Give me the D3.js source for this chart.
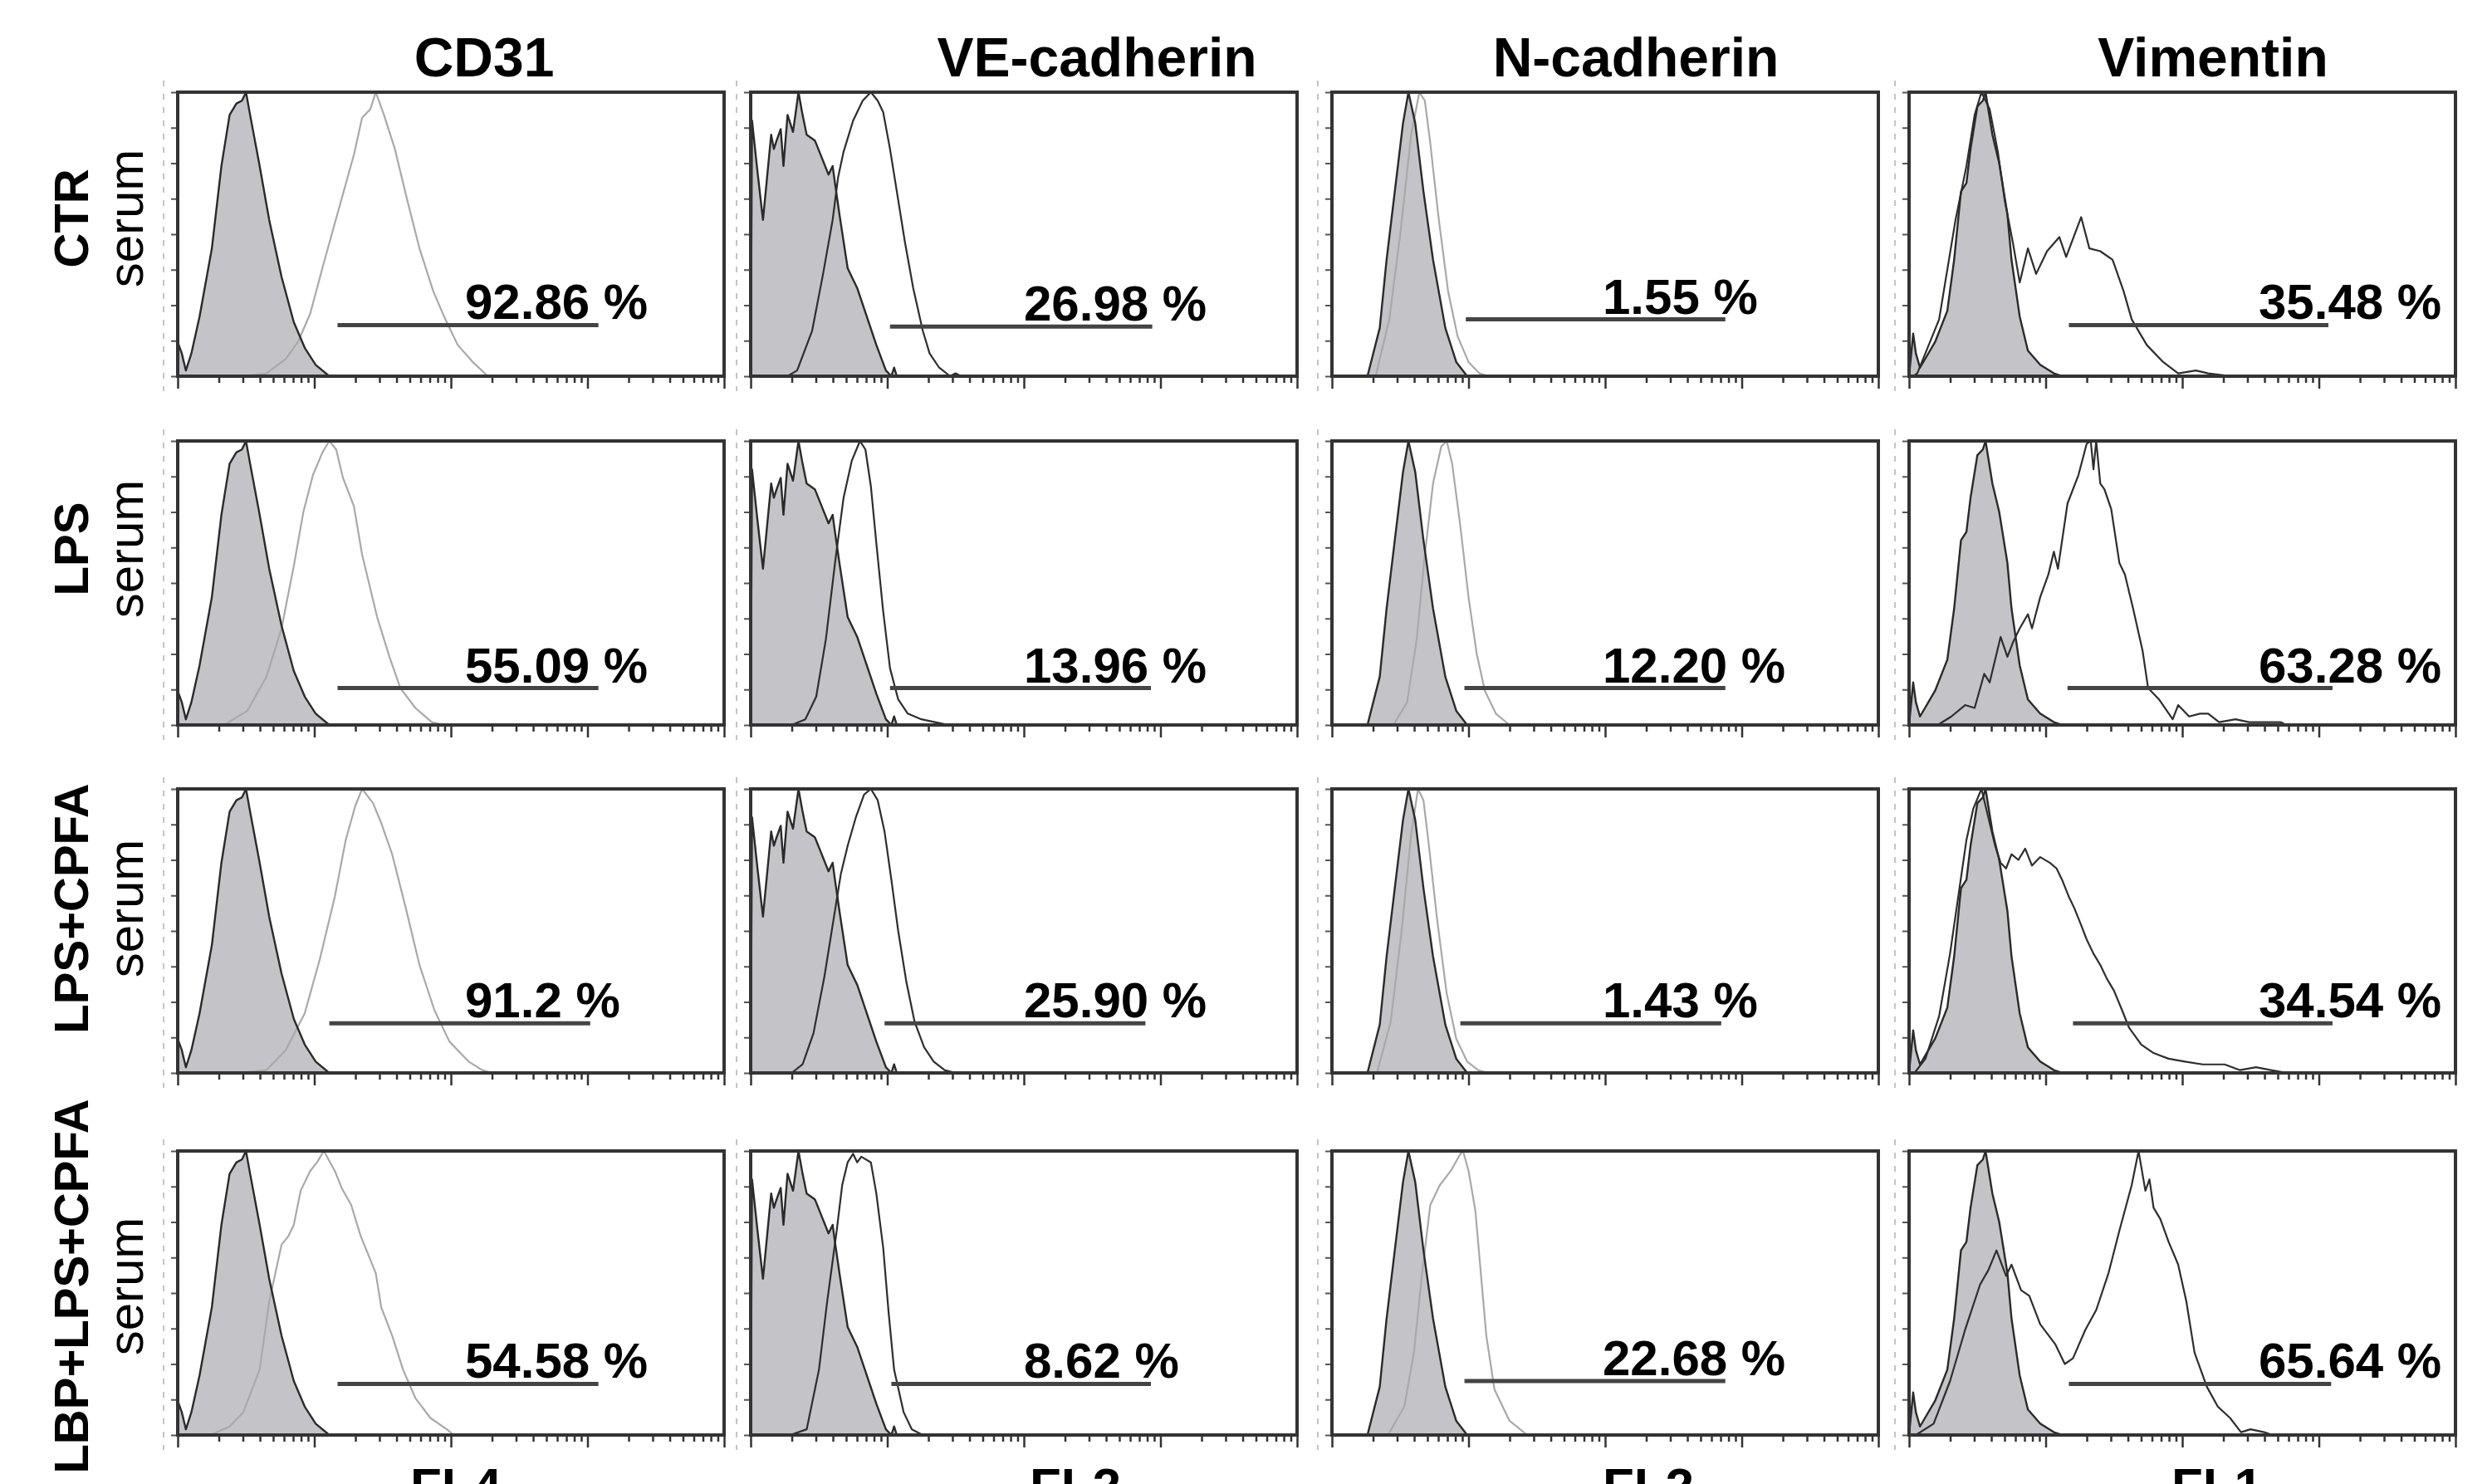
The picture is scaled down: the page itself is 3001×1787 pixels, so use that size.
<!DOCTYPE html>
<html>
<head>
<meta charset="utf-8">
<script src="https://cdn.jsdelivr.net/npm/d3@7"></script>
<style>
    body { margin: 0; background: #fff; }
    svg { display: block; font-family: "Liberation Sans", Arial, sans-serif; }
</style>
</head>
<body>
<div id="chart"></div>
<script>
// ---- data (x = log10 fluorescence, y = % of max count) ----
const markers = ["CD31", "VE-cadherin", "N-cadherin", "Vimentin"];
const channels = ["FL4", "FL2", "FL2", "FL1"];
const treatments = ["CTR", "LPS", "LPS+CPFA", "LBP+LPS+CPFA"];

const percentages = [
    ["92.86", "26.98", "1.55", "35.48"],
    ["55.09", "13.96", "12.20", "63.28"],
    ["91.2", "25.90", "1.43", "34.54"],
    ["54.58", "8.62", "22.68", "65.64"]
];

// marker gate [from, to] in log10 units
const gateRanges = [
    [[1.17, 3.08], [1.02, 2.94], [0.98, 2.88], [1.17, 3.07]],
    [[1.17, 3.08], [1.02, 2.93], [0.97, 2.88], [1.16, 3.10]],
    [[1.11, 3.02], [0.98, 2.89], [0.94, 2.85], [1.20, 3.10]],
    [[1.17, 3.08], [1.03, 2.93], [0.97, 2.88], [1.17, 3.09]]
];
// height of the gate marker, % of max
const gateLevels = [
    [18, 17.5, 20, 18],
    [13, 13, 13, 13],
    [17.5, 17.5, 17.5, 17.5],
    [18, 18, 19, 18]
];

// isotype controls (filled)
const isoCD31 = [[0,0],[0,12],[0.03,8],[0.06,2],[0.10,8],[0.16,21],[0.25,45],[0.32,74],[0.38,92],[0.43,96],[0.47,97],[0.50,100],[0.53,92],[0.60,74],[0.67,55],[0.76,35],[0.85,19],[0.93,10],[1.01,4],[1.11,0]];
const isoVEcad = [[0,0],[0.01,90],[0.05,72],[0.09,55],[0.12,70],[0.15,85],[0.17,80],[0.19,83],[0.22,87],[0.24,74],[0.27,92],[0.31,86],[0.35,100],[0.38,92],[0.41,85],[0.47,83],[0.52,77],[0.57,71],[0.60,74],[0.62,67],[0.65,57],[0.71,38],[0.78,31],[0.85,21],[0.92,11],[0.99,2],[1.03,0],[1.05,3],[1.07,0]];
const isoNcad = [[0,0],[0.26,0],[0.35,17],[0.40,41],[0.46,65],[0.52,89],[0.56,100],[0.61,89],[0.67,65],[0.74,41],[0.83,17],[0.91,5],[0.99,0]];
const isoVim = [[0,0],[0.03,15],[0.05,8],[0.08,3],[0.19,12],[0.28,23],[0.33,41],[0.38,65],[0.42,68],[0.45,80],[0.50,95],[0.54,97],[0.56,100],[0.61,85],[0.66,75],[0.72,57],[0.75,41],[0.81,21],[0.87,9],[0.96,4],[1.06,1],[1.12,0]];

// CD31 (FL4)
const cd31CTR = [[0.48,0],[0.65,1],[0.79,6],[0.88,12],[0.97,22],[1.07,40],[1.18,59],[1.29,78],[1.35,91],[1.41,94],[1.45,100],[1.51,92],[1.59,80],[1.67,64],[1.77,45],[1.87,30],[1.95,21],[2.05,11],[2.16,5],[2.27,0]];
const cd31LPS = [[0.34,0],[0.51,5],[0.65,17],[0.76,34],[0.85,56],[0.92,75],[0.99,88],[1.06,96],[1.11,100],[1.16,97],[1.21,87],[1.29,77],[1.35,60],[1.46,38],[1.55,24],[1.63,13],[1.74,6],[1.86,1],[1.95,0]];
const cd31CPFA = [[0.45,0],[0.65,1],[0.79,8],[0.93,21],[1.04,40],[1.15,62],[1.23,82],[1.30,94],[1.35,100],[1.43,95],[1.49,88],[1.57,77],[1.67,58],[1.77,38],[1.88,22],[1.99,11],[2.13,4],[2.23,1],[2.30,0]];
const cd31LBP = [[0.24,0],[0.38,3],[0.48,8],[0.60,23],[0.67,47],[0.76,67],[0.81,70],[0.85,74],[0.90,86],[0.97,93],[1.02,96],[1.07,100],[1.15,93],[1.20,87],[1.27,81],[1.34,70],[1.45,57],[1.49,45],[1.57,35],[1.65,23],[1.74,13],[1.85,6],[1.97,2],[2.02,0]];

// VE-cadherin (FL2)
const veCTR = [[0.27,0],[0.34,2],[0.45,16],[0.53,36],[0.60,55],[0.64,70],[0.68,79],[0.75,90],[0.82,97],[0.88,100],[0.93,97],[0.97,93],[1.02,80],[1.07,65],[1.13,47],[1.19,31],[1.26,16],[1.31,8],[1.38,3],[1.46,0],[1.50,1],[1.54,0]];
const veLPS = [[0.30,0],[0.40,2],[0.48,10],[0.55,30],[0.62,58],[0.68,80],[0.74,93],[0.80,100],[0.84,97],[0.88,84],[0.92,64],[0.97,40],[1.02,20],[1.08,9],[1.15,4],[1.25,2],[1.35,1],[1.45,0]];
const veCPFA = [[0.30,0],[0.38,3],[0.46,14],[0.54,34],[0.61,55],[0.66,70],[0.71,80],[0.77,90],[0.83,98],[0.88,100],[0.93,96],[0.98,85],[1.03,68],[1.08,50],[1.14,32],[1.20,18],[1.27,9],[1.34,4],[1.42,1],[1.50,0]];
const veLBP = [[0.29,0],[0.41,2],[0.50,23],[0.56,47],[0.63,72],[0.67,88],[0.71,96],[0.75,99],[0.78,96],[0.81,98],[0.88,96],[0.92,85],[0.97,66],[1.01,43],[1.05,23],[1.12,8],[1.18,2],[1.26,0]];

// N-cadherin (FL2)
const ncCTR = [[0.32,0],[0.42,20],[0.50,50],[0.58,85],[0.64,100],[0.68,97],[0.72,82],[0.78,56],[0.85,30],[0.92,14],[1.00,5],[1.08,1],[1.15,0]];
const ncLPS = [[0.45,0],[0.55,8],[0.62,30],[0.68,60],[0.74,85],[0.80,98],[0.84,100],[0.88,92],[0.94,70],[1.00,45],[1.06,25],[1.12,12],[1.20,4],[1.30,0]];
const ncCPFA = [[0.33,0],[0.43,18],[0.51,50],[0.58,84],[0.63,100],[0.67,96],[0.71,80],[0.77,54],[0.84,28],[0.91,12],[0.99,4],[1.07,1],[1.14,0]];
const ncLBP = [[0.41,0],[0.53,10],[0.60,29],[0.66,57],[0.72,81],[0.79,88],[0.87,93],[0.94,99],[0.96,100],[1.00,93],[1.05,79],[1.09,57],[1.13,35],[1.19,16],[1.30,5],[1.43,0]];

// Vimentin (FL1)
const vimCTR = [[0.03,0],[0.06,1],[0.22,20],[0.34,55],[0.42,74],[0.48,92],[0.53,100],[0.59,94],[0.65,79],[0.70,62],[0.76,47],[0.81,33],[0.87,45],[0.93,36],[1.01,44],[1.10,49],[1.15,42],[1.26,56],[1.32,45],[1.40,44],[1.49,41],[1.57,30],[1.63,20],[1.74,11],[1.86,5],[1.97,1],[2.10,2],[2.19,1],[2.36,0]];
const vimLPS = [[0.21,0],[0.31,3],[0.41,7],[0.48,6],[0.55,18],[0.59,15],[0.67,31],[0.72,24],[0.76,29],[0.81,34],[0.87,39],[0.90,34],[0.96,45],[1.02,53],[1.06,61],[1.09,55],[1.16,78],[1.24,88],[1.30,99],[1.33,100],[1.35,90],[1.37,100],[1.40,85],[1.43,83],[1.48,76],[1.54,57],[1.58,53],[1.64,41],[1.71,26],[1.75,13],[1.83,9],[1.93,2],[1.97,7],[2.05,3],[2.13,4],[2.19,4],[2.27,1],[2.39,2],[2.49,1],[2.72,1],[2.76,0]];
const vimCPFA = [[0.04,0],[0.12,5],[0.22,20],[0.30,42],[0.36,62],[0.42,82],[0.47,93],[0.53,100],[0.58,90],[0.63,80],[0.67,74],[0.71,72],[0.75,77],[0.80,75],[0.85,79],[0.90,73],[0.96,76],[1.03,74],[1.08,72],[1.12,68],[1.17,62],[1.21,58],[1.26,52],[1.30,47],[1.35,42],[1.40,38],[1.45,33],[1.50,29],[1.56,22],[1.61,16],[1.70,10],[1.79,7],[1.90,5],[2.02,4],[2.15,3],[2.31,3],[2.42,1],[2.54,2],[2.65,1],[2.77,0]];
const vimLBP = [[0.05,0],[0.18,4],[0.30,19],[0.41,37],[0.52,53],[0.58,58],[0.64,65],[0.71,56],[0.75,60],[0.82,51],[0.88,49],[0.96,39],[1.07,32],[1.14,25],[1.20,27],[1.29,37],[1.37,44],[1.46,57],[1.54,72],[1.63,88],[1.68,100],[1.73,86],[1.76,90],[1.79,80],[1.84,76],[1.90,68],[1.97,60],[2.03,47],[2.09,29],[2.18,17],[2.26,10],[2.35,6],[2.43,1],[2.50,2],[2.60,1],[2.66,0]];

const isotypes = [isoCD31, isoVEcad, isoNcad, isoVim];
const samples = [
    [cd31CTR, veCTR, ncCTR, vimCTR],
    [cd31LPS, veLPS, ncLPS, vimLPS],
    [cd31CPFA, veCPFA, ncCPFA, vimCPFA],
    [cd31LBP, veLBP, ncLBP, vimLBP]
];

// ---- layout ----
const W = 3001, H = 1787;
const colX = [214, 904, 1604, 2299];
const rowY = [111, 531, 950, 1386];
const pw = 658, ph = 342;
const titleShift = [40, 88, 37, 37];
const channelShift = [6, 62, 52, 42];
const labelMid = [152, 130, 144, 163];
const pctX = [346, 329, 326, 421];   // left edge of the % text inside a panel
const sampleColor = ["#a9a9a9", "#2e2e2e", "#a9a9a9", "#2e2e2e"];

const svg = d3.select("#chart").append("svg")
    .attr("width", W)
    .attr("height", H);

// scales shared by every panel
const x = d3.scaleLog().domain([1, 1e4]).range([0, pw]);
const y = d3.scaleLinear().domain([0, 100]).range([ph, 0]);

const fx = d => x(Math.pow(10, d[0]));
const area = d3.area().x(fx).y0(ph).y1(d => y(d[1]));
const line = d3.line().x(fx).y(d => y(d[1]));

let xTicks = [];
for (let e = 0; e < 4; e++) {
    for (let m = 1; m < 10; m++) xTicks.push(m * Math.pow(10, e));
}
xTicks.push(1e4);

const xAxis = d3.axisBottom(x).tickValues(xTicks).tickFormat("").tickSizeOuter(0);
const yAxis = d3.axisLeft(y).tickValues(d3.range(0, 100.1, 12.5)).tickFormat("").tickSize(8).tickSizeOuter(0);

treatments.forEach((treat, r) => {
    markers.forEach((marker, c) => {
        let g = svg.append("g")
            .attr("transform", `translate(${colX[c]},${rowY[r]})`);

        // faint dashed edge left over from the original panel crop
        g.append("line")
            .attr("x1", -17).attr("x2", -17)
            .attr("y1", -14).attr("y2", ph + 18)
            .attr("stroke", "#c4c4c4")
            .attr("stroke-width", 2)
            .attr("stroke-dasharray", "7,9");

        // isotype fill
        g.append("path")
            .datum(isotypes[c])
            .attr("d", area)
            .attr("fill", "#c4c3c8")
            .attr("stroke", "none");

        // sample histogram
        g.append("path")
            .datum(samples[r][c])
            .attr("d", line)
            .attr("fill", "none")
            .attr("stroke", sampleColor[c])
            .attr("stroke-width", 2.2)
            .attr("stroke-linejoin", "round");

        // isotype outline
        g.append("path")
            .datum(isotypes[c])
            .attr("d", line)
            .attr("fill", "none")
            .attr("stroke", "#2a2a2a")
            .attr("stroke-width", 2.4)
            .attr("stroke-linejoin", "round");

        // axes
        let xg = g.append("g")
            .attr("transform", `translate(0,${ph})`)
            .call(xAxis);
        xg.select(".domain").remove();
        xg.selectAll(".tick line")
            .attr("y2", d => (Math.abs(Math.log10(d) % 1) < 1e-6) ? 15 : 8)
            .attr("stroke", "#333")
            .attr("stroke-width", 2.5);

        let yg = g.append("g").call(yAxis);
        yg.select(".domain").remove();
        yg.selectAll(".tick line")
            .attr("stroke", "#555")
            .attr("stroke-width", 2);

        // frame
        g.append("rect")
            .attr("width", pw)
            .attr("height", ph)
            .attr("fill", "none")
            .attr("stroke", "#333")
            .attr("stroke-width", 4);

        // gate marker + percentage
        let gate = gateRanges[r][c];
        let gy = y(gateLevels[r][c]);
        g.append("line")
            .attr("x1", x(Math.pow(10, gate[0])))
            .attr("x2", x(Math.pow(10, gate[1])))
            .attr("y1", gy).attr("y2", gy)
            .attr("stroke", "#444")
            .attr("stroke-width", 5);
        g.append("text")
            .attr("x", pctX[c])
            .attr("y", gy - 7)
            .attr("font-size", 60)
            .attr("font-weight", "bold")
            .text(percentages[r][c] + " %");
    });

    // row labels
    let mid = rowY[r] + labelMid[r];
    svg.append("text")
        .attr("transform", `translate(106,${mid}) rotate(-90)`)
        .attr("text-anchor", "middle")
        .attr("font-size", 58)
        .attr("font-weight", "bold")
        .text(treat);
    svg.append("text")
        .attr("transform", `translate(172,${mid}) rotate(-90)`)
        .attr("text-anchor", "middle")
        .attr("font-size", 60)
        .text("serum");
});

// column titles and channel names
markers.forEach((marker, c) => {
    svg.append("text")
        .attr("x", colX[c] + pw / 2 + titleShift[c])
        .attr("y", 92)
        .attr("text-anchor", "middle")
        .attr("font-size", 66)
        .attr("font-weight", "bold")
        .text(marker);
    svg.append("text")
        .attr("x", colX[c] + pw / 2 + channelShift[c])
        .attr("y", 1811)
        .attr("text-anchor", "middle")
        .attr("font-size", 62)
        .attr("font-weight", "bold")
        .text(channels[c]);
});
</script>
</body>
</html>
